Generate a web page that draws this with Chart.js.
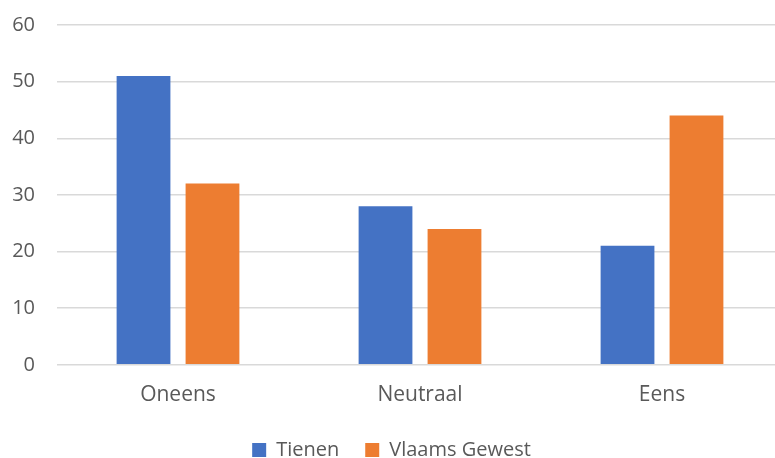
<!DOCTYPE html>
<html>
<head>
<meta charset="utf-8">
<script src="https://cdn.jsdelivr.net/npm/chart.js@4/dist/chart.umd.min.js"></script>
<style>
  html, body { margin: 0; padding: 0; background: #fff; overflow: hidden; }
  #wrap { width: 790px; height: 458px; }
</style>
</head>
<body>
<div id="wrap"><canvas id="chart"></canvas></div>
<script>
const categories = ['Oneens', 'Neutraal', 'Eens'];
const tienen = [51, 28, 21];
const vlaamsGewest = [32, 24, 44];
const seriesNames = ['Tienen', 'Vlaams Gewest'];

const textColor = '#595959';
const fontFamily = '"Open Sans", "Noto Sans", sans-serif';

const ctx = document.getElementById('chart');
new Chart(ctx, {
	type: 'bar',
	data: {
		labels: categories,
		datasets: [{
			label: seriesNames[0],
			data: tienen,
			backgroundColor: '#4472c4',
			borderWidth: 0,
			categoryPercentage: 0.57,
			barPercentage: 0.78,
		}, {
			label: seriesNames[1],
			data: vlaamsGewest,
			backgroundColor: '#ed7d31',
			borderWidth: 0,
			categoryPercentage: 0.57,
			barPercentage: 0.78,
		}]
	},
	options: {
		responsive: true,
		maintainAspectRatio: false,
		animation: false,
		layout: {
			padding: { top: 25, right: 7, left: 0, bottom: -12 }
		},
		plugins: {
			tooltip: { enabled: false },
			legend: {
				position: 'bottom',
				labels: {
					color: textColor,
					font: { family: fontFamily, size: 20 },
					boxWidth: 14,
					boxHeight: 14,
					padding: 26,
				}
			}
		},
		scales: {
			x: {
				// shrink the box so the plot reaches lower, labels keep their offset
				afterFit: (scale) => { scale.height -= 12; },
				grid: { display: false, drawTicks: false },
				border: { display: false },
				ticks: {
					color: textColor,
					font: { family: fontFamily, size: 21 },
					padding: 18,
				}
			},
			y: {
				min: 0,
				max: 60,
				afterFit: (scale) => {
					scale.width = 57;
					scale.paddingTop = 0;
				},
				grid: { color: '#d9d9d9', lineWidth: 1.5, drawTicks: false },
				border: { display: false },
				ticks: {
					stepSize: 10,
					color: textColor,
					font: { family: fontFamily, size: 20 },
					padding: 22,
				}
			}
		}
	}
});
</script>
</body>
</html>
